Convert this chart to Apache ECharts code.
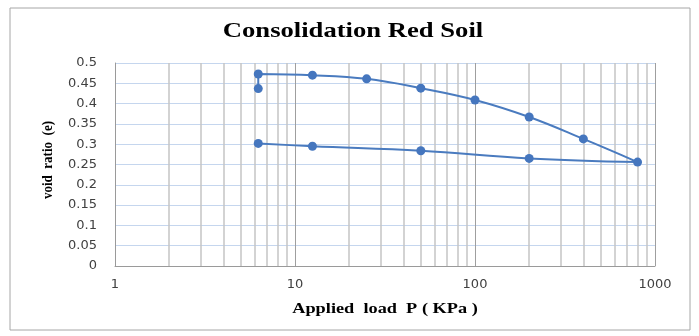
<!DOCTYPE html>
<html><head><meta charset="utf-8">
<script src="https://cdn.jsdelivr.net/npm/echarts@6/dist/echarts.min.js"></script>
<style>html,body{margin:0;padding:0;background:#fff}#c{width:699px;height:336px}</style>
</head><body><div id="c"></div>
<script>
const loads = [6.25, 6.25, 12.5, 25, 50, 100, 200, 400, 800, 200, 50, 12.5, 6.25];
const voidRatio = [0.437, 0.473, 0.470, 0.461, 0.438, 0.409, 0.367, 0.313, 0.256, 0.265, 0.284, 0.295, 0.302];
const minorGrid = [2,3,4,5,6,7,8,9,20,30,40,50,60,70,80,90,200,300,400,500,600,700,800,900];
const titleText = 'Consolidation Red Soil';
const xName = 'Applied  load  P ( KPa )';
const yName = 'void  ratio  (e)';

const chart = echarts.init(document.getElementById('c'), null, {renderer:'canvas'});
const serif = '"Liberation Serif", "Times New Roman", serif';
const sans = '"DejaVu Sans", Verdana, sans-serif';
chart.setOption({
  animation: false,
  backgroundColor: '#fff',
  grid: {left: 115, right: 44, top: 63, bottom: 70, containLabel: false},
  graphic: [
    {type:'rect', shape:{x:10, y:8, width:680, height:322}, style:{fill:'none', stroke:'#a6a6a6', lineWidth:1}, silent:true},
    {type:'text', x:353, y:31, scaleX:1.21, style:{text:titleText, font:'bold 22px ' + serif, fill:'#000', textAlign:'center', textVerticalAlign:'middle'}},
    {type:'text', x:385, y:309, scaleX:1.22, style:{text:xName, font:'bold 15px ' + serif, fill:'#000', textAlign:'center', textVerticalAlign:'middle'}},
    {type:'text', x:48, y:160, rotation:Math.PI/2, scaleY:1.1, style:{text:yName, font:'bold 13px ' + serif, fill:'#000', textAlign:'center', textVerticalAlign:'middle'}}
  ],
  xAxis: {
    type:'log', logBase:10, min:1, max:1000,
    axisLine:{show:true, lineStyle:{color:'#9a9a9a'}},
    axisTick:{show:false},
    axisLabel:{color:'#404040', fontFamily:sans, fontSize:13, margin:12, formatter: v => String(v)},
    splitLine:{show:true, lineStyle:{color:'#9f9f9f', width:1}},
    minorTick:{show:false}, minorSplitLine:{show:false}
  },
  yAxis: {
    type:'value', min:0, max:0.5, interval:0.05,
    axisLine:{show:true, lineStyle:{color:'#9a9a9a'}},
    axisTick:{show:false},
    axisLabel:{color:'#404040', fontFamily:sans, fontSize:13, margin:18},
    splitLine:{show:true, lineStyle:{color:'#c5d6ee', width:1}}
  },
  series: [{
    type:'line',
    data: loads.map((x,i)=>[x, voidRatio[i]]),
    smooth: 0.4,
    symbol:'circle', symbolSize:9,
    itemStyle:{color:'#4576be'},
    lineStyle:{color:'#4a7bbf', width:2},
    z: 5,
    markLine:{
      silent:true, symbol:['none','none'], label:{show:false},
      lineStyle:{color:'#c4c4c4', type:'solid', width:1.5},
      z: 1,
      data: minorGrid.map(v=>({xAxis:v}))
    }
  }]
});
</script></body></html>
